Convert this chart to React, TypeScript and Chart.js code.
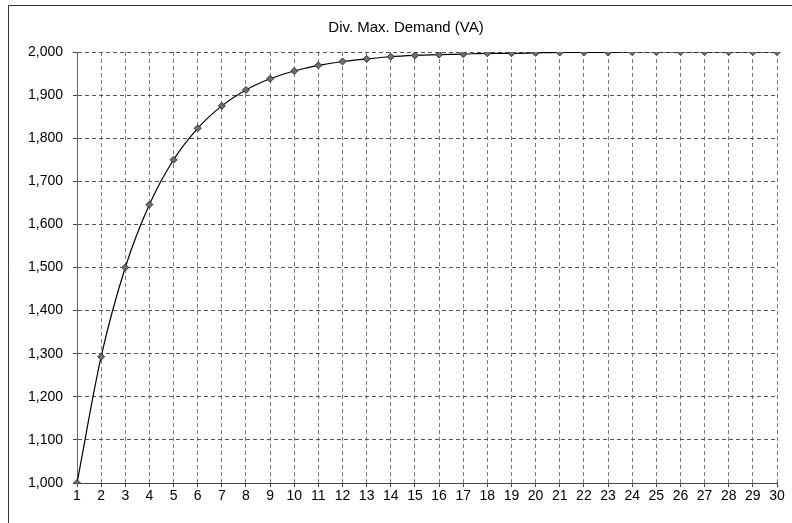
import React, { useEffect, useRef } from "react";
import { Chart, registerables } from "chart.js";

Chart.register(...registerables);

const TITLE = "Div. Max. Demand (VA)";
const categories = Array.from({ length: 30 }, (_, i) => String(i + 1));
const demandValues = [
  1000, 1293, 1500, 1646, 1750, 1823, 1875, 1912, 1938, 1956,
  1969, 1978, 1984, 1989, 1992, 1994, 1995, 1997, 1997, 1998,
  1999, 1999, 1999, 2000, 2000, 2000, 2000, 2000, 2000, 2000,
];
const yMin = 1000;
const yMax = 2000;
const yStep = 100;

const FONT = "Arial, 'Liberation Sans', sans-serif";

const framePlugin = {
  id: "frame",
  beforeDraw(chart: any) {
    const ctx = chart.ctx;
    ctx.save();
    ctx.fillStyle = "#ffffff";
    ctx.fillRect(0, 0, chart.width, chart.height);
    ctx.strokeStyle = "#333333";
    ctx.lineWidth = 1;
    ctx.beginPath();
    ctx.moveTo(8.5, chart.height);
    ctx.lineTo(8.5, 5.5);
    ctx.lineTo(chart.width, 5.5);
    ctx.stroke();
    ctx.restore();
  },
};

export default function App() {
  const ref = useRef<HTMLCanvasElement | null>(null);

  useEffect(() => {
    if (!ref.current) return;
    const chart = new Chart(ref.current, {
      type: "line",
      data: {
        labels: categories,
        datasets: [
          {
            label: TITLE,
            data: demandValues,
            borderColor: "#000000",
            borderWidth: 1.2,
            cubicInterpolationMode: "monotone",
            pointStyle: "rectRot",
            pointRadius: 3.5,
            pointBackgroundColor: "#6e6e6e",
            pointBorderColor: "#333333",
            pointBorderWidth: 1,
            fill: false,
          },
        ],
      },
      options: {
        animation: false,
        responsive: false,
        maintainAspectRatio: false,
        layout: { padding: { left: 20, right: 0, top: 5, bottom: 0 } },
        plugins: {
          legend: { display: false },
          tooltip: { enabled: false },
          title: {
            display: true,
            text: TITLE,
            color: "#000000",
            font: { family: FONT, size: 15, weight: "normal" },
            padding: { top: 14, bottom: 15 },
          },
        },
        scales: {
          x: {
            type: "category",
            offset: false,
            grid: {
              color: "#7a7a7a",
              tickLength: 4,
              tickColor: "#444444",
              tickBorderDash: [],
              drawTicks: true,
            },
            border: { display: true, color: "#444444", width: 1, dash: [4, 3] },
            ticks: {
              color: "#000000",
              font: { family: FONT, size: 14 },
              padding: 1,
              maxRotation: 0,
              autoSkip: false,
            },
            afterFit(scale: any) {
              scale.height = 40;
              scale.paddingRight = 15;
              scale.paddingLeft = 0;
            },
          },
          y: {
            min: yMin,
            max: yMax,
            grid: {
              color: "#555555",
              tickLength: 4,
              tickColor: "#444444",
              tickBorderDash: [],
            },
            border: { display: true, color: "#666666", width: 1, dash: [4, 3] },
            ticks: {
              stepSize: yStep,
              color: "#000000",
              font: { family: FONT, size: 14 },
              padding: 10,
              callback: (v: any) => Number(v).toLocaleString("en-US"),
            },
            afterFit(scale: any) {
              scale.width = 57;
            },
          },
        },
      },
      plugins: [framePlugin],
    });
    return () => chart.destroy();
  }, []);

  return (
    <div style={{ position: "absolute", left: 0, top: 0, width: 792, height: 523 }}>
      <canvas ref={ref} width={792} height={523} style={{ display: "block" }} />
    </div>
  );
}
